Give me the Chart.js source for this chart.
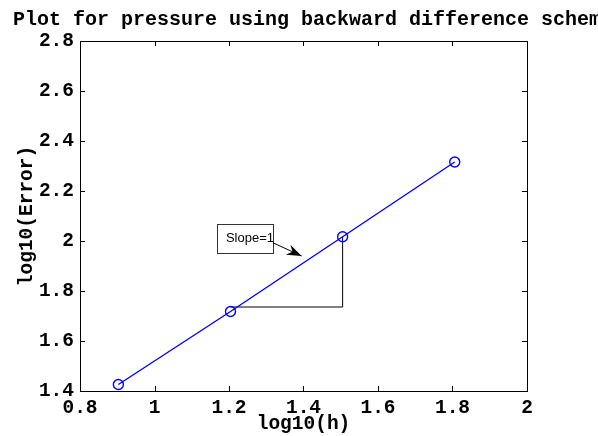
<!DOCTYPE html>
<html>
<head>
<meta charset="utf-8">
<script src="https://cdn.jsdelivr.net/npm/chart.js@4"></script>
<style>
  html, body { margin: 0; padding: 0; background: #fff; }
  #wrap { width: 598px; height: 436px; }
</style>
</head>
<body>
<div id="wrap"><canvas id="plot"></canvas></div>
<script>
const logH = [0.903, 1.204, 1.505, 1.806];
const logErr = [1.426, 1.718, 2.017, 2.316];
const slopeX = [1.204, 1.505, 1.505];
const slopeY = [1.736, 1.736, 2.017];
const titleText = 'Plot for pressure using backward difference scheme';
const monoFont = '"Liberation Mono", "Courier New", monospace';

// text box "Slope=1" and arrow, positioned in data units
const noteBox = { x0: 1.168, x1: 1.318, y0: 2.068, y1: 1.952, label: 'Slope=1' };
const noteArrow = { x0: 1.318, y0: 1.993, x1: 1.395, y1: 1.94 };

const framePlugin = {
    id: 'frame',
    afterDraw(chart) {
        const c = chart.ctx;
        const a = chart.chartArea;
        const xs = chart.scales.x, ys = chart.scales.y;
        c.save();
        c.strokeStyle = '#000';
        c.lineWidth = 1;
        c.strokeRect(a.left + 0.5, a.top + 0.5, a.right - a.left, a.bottom - a.top);
        c.beginPath();
        xs.ticks.forEach(t => {
            const px = Math.round(xs.getPixelForValue(t.value)) + 0.5;
            c.moveTo(px, a.bottom); c.lineTo(px, a.bottom - 5);
            c.moveTo(px, a.top); c.lineTo(px, a.top + 5);
        });
        ys.ticks.forEach(t => {
            const py = Math.round(ys.getPixelForValue(t.value)) + 0.5;
            c.moveTo(a.left, py); c.lineTo(a.left + 5, py);
            c.moveTo(a.right, py); c.lineTo(a.right - 5, py);
        });
        c.stroke();

        // annotation box
        const bx0 = xs.getPixelForValue(noteBox.x0), bx1 = xs.getPixelForValue(noteBox.x1);
        const by0 = ys.getPixelForValue(noteBox.y0), by1 = ys.getPixelForValue(noteBox.y1);
        c.fillStyle = '#fff';
        c.fillRect(bx0, by0, bx1 - bx0, by1 - by0);
        c.strokeStyle = '#333';
        c.strokeRect(Math.round(bx0) + 0.5, Math.round(by0) + 0.5, Math.round(bx1 - bx0), Math.round(by1 - by0));
        c.fillStyle = '#000';
        c.font = '13px "Liberation Sans", Arial, sans-serif';
        c.textAlign = 'right';
        c.textBaseline = 'middle';
        c.fillText(noteBox.label, bx1 + 1, (by0 + by1) / 2);

        // arrow
        const ax0 = xs.getPixelForValue(noteArrow.x0), ay0 = ys.getPixelForValue(noteArrow.y0);
        const ax1 = xs.getPixelForValue(noteArrow.x1), ay1 = ys.getPixelForValue(noteArrow.y1);
        const ang = Math.atan2(ay1 - ay0, ax1 - ax0);
        const cs = Math.cos(ang), sn = Math.sin(ang);
        c.strokeStyle = '#000';
        c.beginPath();
        c.moveTo(ax0, ay0); c.lineTo(ax1, ay1);
        c.stroke();
        c.beginPath();
        c.moveTo(ax1, ay1);
        c.lineTo(ax1 - 15 * cs + 5.5 * sn, ay1 - 15 * sn - 5.5 * cs);
        c.lineTo(ax1 - 10 * cs, ay1 - 10 * sn);
        c.lineTo(ax1 - 15 * cs - 5.5 * sn, ay1 - 15 * sn + 5.5 * cs);
        c.closePath();
        c.fill();

        // title, placed like the MATLAB export (runs off the right edge)
        c.font = 'bold 20px ' + monoFont;
        c.textAlign = 'left';
        c.textBaseline = 'alphabetic';
        c.fillText(titleText, 13, 25);
        c.restore();
    }
};

new Chart(document.getElementById('plot'), {
    type: 'scatter',
    data: {
        datasets: [{
            data: slopeX.map((x, i) => ({ x: x, y: slopeY[i] })),
            showLine: true,
            borderColor: '#000',
            borderWidth: 1,
            pointRadius: 0,
            order: 2
        }, {
            data: logH.map((x, i) => ({ x: x, y: logErr[i] })),
            showLine: true,
            borderColor: '#0000ff',
            borderWidth: 1.4,
            pointRadius: 5,
            pointBorderWidth: 1.4,
            pointBorderColor: '#0000ff',
            pointBackgroundColor: 'rgba(0,0,0,0)',
            order: 1
        }]
    },
    options: {
        responsive: true,
        maintainAspectRatio: false,
        animation: false,
        layout: { padding: { top: 41, right: 71, left: 15, bottom: 0 } },
        plugins: {
            legend: { display: false },
            tooltip: { enabled: false }
        },
        scales: {
            x: {
                type: 'linear',
                min: 0.8,
                max: 2,
                grid: { display: false, drawTicks: false },
                border: { display: false },
                afterFit(s) { s.height = 45; },
                ticks: {
                    stepSize: 0.2,
                    padding: 5,
                    color: '#000',
                    font: { family: monoFont, weight: 'bold', size: 19.5 },
                    maxRotation: 0,
                    autoSkip: false,
                    callback: v => String(Math.round(v * 10) / 10)
                },
                title: {
                    display: true,
                    text: 'log10(h)',
                    color: '#000',
                    padding: { top: -8, bottom: 0 },
                    font: { family: monoFont, weight: 'bold', size: 19.5 }
                }
            },
            y: {
                type: 'linear',
                min: 1.4,
                max: 2.8,
                grid: { display: false, drawTicks: false },
                border: { display: false },
                afterFit(s) { s.width = 65; },
                ticks: {
                    stepSize: 0.2,
                    padding: 6,
                    color: '#000',
                    font: { family: monoFont, weight: 'bold', size: 19.5 },
                    autoSkip: false,
                    callback: v => String(Math.round(v * 10) / 10)
                },
                title: {
                    display: true,
                    text: 'log10(Error)',
                    color: '#000',
                    padding: 0,
                    font: { family: monoFont, weight: 'bold', size: 19.5 }
                }
            }
        }
    },
    plugins: [framePlugin]
});
</script>
</body>
</html>
